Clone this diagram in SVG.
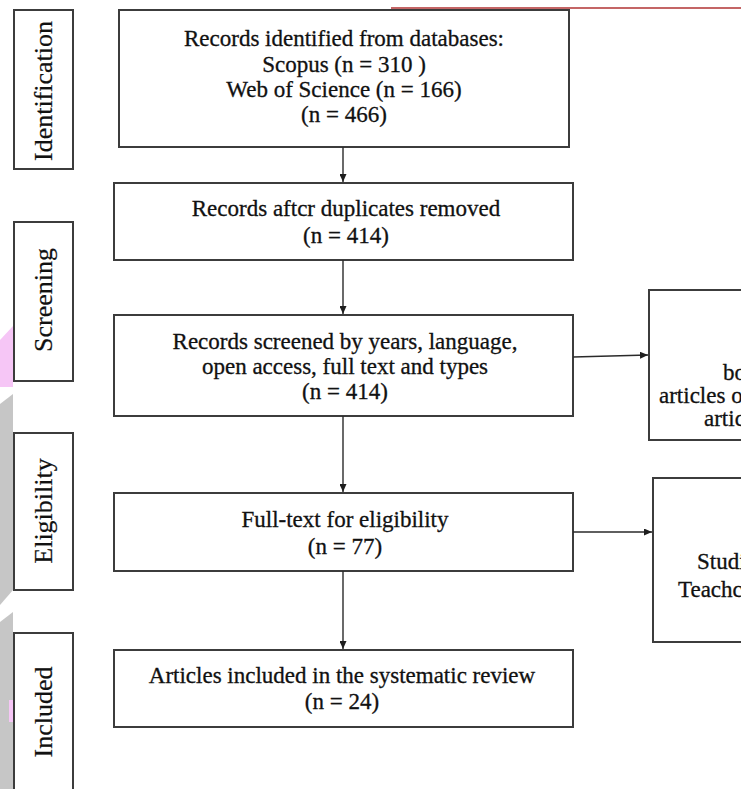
<svg xmlns="http://www.w3.org/2000/svg" width="741" height="789" viewBox="0 0 741 789">
<style>
.bg{fill:#ffffff}
.box{fill:#ffffff;stroke:#3c3c3c;stroke-width:2}
.t{font-family:"Liberation Serif","Times New Roman",serif;font-size:23px;fill:#111111;stroke:#111111;stroke-width:0.3;text-anchor:middle}
.tl{font-family:"Liberation Serif","Times New Roman",serif;font-size:23px;fill:#111111;stroke:#111111;stroke-width:0.3;text-anchor:start}
.ph{font-family:"Liberation Serif","Times New Roman",serif;font-size:26px;fill:#111111;stroke:#111111;stroke-width:0.2;text-anchor:middle}
.conn{stroke:#2a2a2a;stroke-width:1.4;fill:none}
.wm-gray{fill:#c6c6c6}
.wm-pink{fill:#f6c6f6}
</style>
<defs>
<marker id="arr" markerUnits="userSpaceOnUse" markerWidth="9" markerHeight="7" refX="8" refY="3.5" orient="auto">
<path d="M0,0 L8,3.5 L0,7 z" fill="#1e1e1e"/>
</marker>
</defs>
<rect class="bg" x="0" y="0" width="741" height="789"/>
<g id="watermark">
<polygon class="wm-pink" points="0,340 13,326 13,387 0,387"/>
<polygon class="wm-gray" points="0,404 13,394 13,590 0,605"/>
<polygon class="wm-gray" points="0,622 13,612 13,789 0,789"/>
<polygon class="wm-pink" points="9,700 13,700 13,722 9,722"/>
</g>
<line x1="391" y1="8" x2="741" y2="8" stroke="#b03232" stroke-width="1.5"/>
<g id="phase-identification">
<rect class="box" x="14" y="10" width="59" height="159"/>
<text class="ph" transform="translate(52,91) rotate(-90)">Identification</text>
</g>
<g id="phase-screening">
<rect class="box" x="14" y="222" width="59" height="159"/>
<text class="ph" transform="translate(52,300) rotate(-90)">Screening</text>
</g>
<g id="phase-eligibility">
<rect class="box" x="14" y="433" width="59" height="157"/>
<text class="ph" transform="translate(52,511) rotate(-90)">Eligibility</text>
</g>
<g id="phase-included">
<rect class="box" x="14" y="633" width="59" height="180"/>
<text class="ph" transform="translate(52,712) rotate(-90)">Included</text>
</g>
<g id="node-identified">
<rect class="box" x="119" y="10" width="450" height="137"/>
<text class="t" x="344" y="46">Records identified from databases:</text>
<text class="t" x="344" y="72">Scopus (n = 310 )</text>
<text class="t" x="344" y="97">Web of Science (n = 166)</text>
<text class="t" x="344" y="122">(n = 466)</text>
</g>
<g id="node-duplicates">
<rect class="box" x="114" y="183" width="459" height="77"/>
<text class="t" x="346" y="216">Records aftcr duplicates removed</text>
<text class="t" x="346" y="243">(n = 414)</text>
</g>
<g id="node-screened">
<rect class="box" x="114" y="315" width="459" height="101"/>
<text class="t" x="345" y="349">Records screened by years, language,</text>
<text class="t" x="345" y="374">open access, full text and types</text>
<text class="t" x="345" y="399">(n = 414)</text>
</g>
<g id="node-excluded1">
<rect class="box" x="649" y="290" width="120" height="150"/>
<text class="tl" x="723" y="380">bo</text>
<text class="tl" x="659" y="403">articles o</text>
<text class="tl" x="704" y="426">artic</text>
</g>
<g id="node-fulltext">
<rect class="box" x="114" y="493" width="459" height="78"/>
<text class="t" x="345" y="527">Full-text for eligibility</text>
<text class="t" x="345" y="554">(n = 77)</text>
</g>
<g id="node-excluded2">
<rect class="box" x="653" y="478" width="120" height="164"/>
<text class="tl" x="697" y="569">Studi</text>
<text class="tl" x="678" y="597">Teachc</text>
</g>
<g id="node-included">
<rect class="box" x="114" y="650" width="459" height="77"/>
<text class="t" x="342" y="683">Articles included in the systematic review</text>
<text class="t" x="342" y="709">(n = 24)</text>
</g>
<g id="connectors">
<line class="conn" x1="343" y1="147" x2="343" y2="182" marker-end="url(#arr)"/>
<line class="conn" x1="343" y1="260" x2="343" y2="314" marker-end="url(#arr)"/>
<line class="conn" x1="343" y1="416" x2="343" y2="492" marker-end="url(#arr)"/>
<line class="conn" x1="343" y1="571" x2="343" y2="649" marker-end="url(#arr)"/>
<line class="conn" x1="573" y1="357" x2="648" y2="355" marker-end="url(#arr)"/>
<line class="conn" x1="573" y1="532" x2="652" y2="532" marker-end="url(#arr)"/>
</g>
</svg>
